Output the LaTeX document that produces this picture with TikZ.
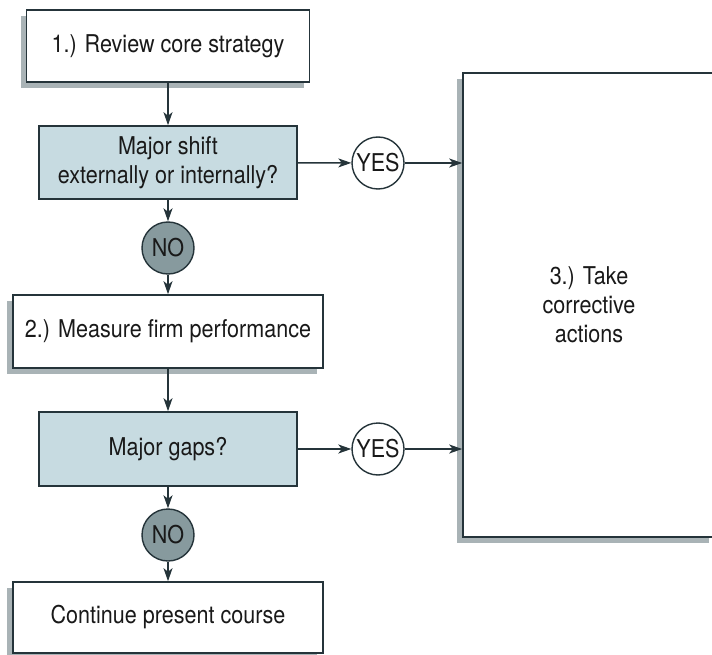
\documentclass[tikz,border=0pt]{standalone}
\usepackage{fontspec}
\setmainfont{TeX Gyre Heros}[FakeStretch=0.88]
\usepackage{xcolor}
\usetikzlibrary{arrows.meta, positioning, calc, shadows}

\definecolor{inkline}{HTML}{25343A}
\definecolor{shadegray}{HTML}{A9B3B6}
\definecolor{askfill}{HTML}{C7DBE1}
\definecolor{nofill}{HTML}{879A9E}

\tikzset{
  stepbox/.style={draw=inkline, line width=1.6pt, fill=white, align=center,
    inner sep=0pt, drop shadow={shadow xshift=-6pt, shadow yshift=-6pt,
    fill=shadegray, opacity=1}},
  askbox/.style={draw=inkline, line width=1.6pt, fill=askfill, align=center,
    inner sep=0pt, minimum width=258pt},
  yesdot/.style={circle, draw=inkline, line width=1.4pt, fill=white,
    minimum size=52pt, inner sep=0pt},
  nodot/.style={yesdot, fill=nofill},
  flow/.style={draw=inkline, line width=1.4pt,
    -{Stealth[length=13pt, width=9pt, inset=3.5pt]}}
}

\begin{document}
\begin{tikzpicture}[x=1pt, y=-1pt, font=\fontsize{24.5}{29}\selectfont, text=black!90]
  \clip (0,0) rectangle (712,655);
  \fill[white] (0,0) rectangle (712,655);

  % left column
  \node[stepbox, minimum width=283pt, minimum height=72pt] (review) at (168,46) {1.) Review core strategy};
  \node[askbox, minimum height=73pt] (shift) at (168,162.5) {Major shift\\externally or internally?};
  \node[nodot] (no1) at (168,248) {NO};
  \node[stepbox, minimum width=310pt, minimum height=73pt] (measure) at (168,331.5) {2.) Measure firm performance};
  \node[askbox, minimum height=74pt] (gaps) at (168,449) {Major gaps?};
  \node[nodot] (no2) at (168,535) {NO};
  \node[stepbox, minimum width=310pt, minimum height=71pt] (continue) at (168,617.5) {Continue present course};

  % right side
  \node[yesdot] (yes1) at (378,163) {YES};
  \node[yesdot] (yes2) at (378,449) {YES};
  \node[stepbox, minimum width=252pt, minimum height=464pt] (act) at (589,305) {3.) Take\\corrective\\actions};

  % connectors
  \draw[flow] (review) -- (shift);
  \draw[flow] (shift) -- (no1);
  \draw[flow] (no1) -- (measure);
  \draw[flow] (measure) -- (gaps);
  \draw[flow] (gaps) -- (no2);
  \draw[flow] (no2) -- (continue);
  \draw[flow] (shift) -- (yes1);
  \draw[flow] (yes1) -- (yes1 -| act.west);
  \draw[flow] (gaps) -- (yes2);
  \draw[flow] (yes2) -- (yes2 -| act.west);
\end{tikzpicture}
\end{document}
